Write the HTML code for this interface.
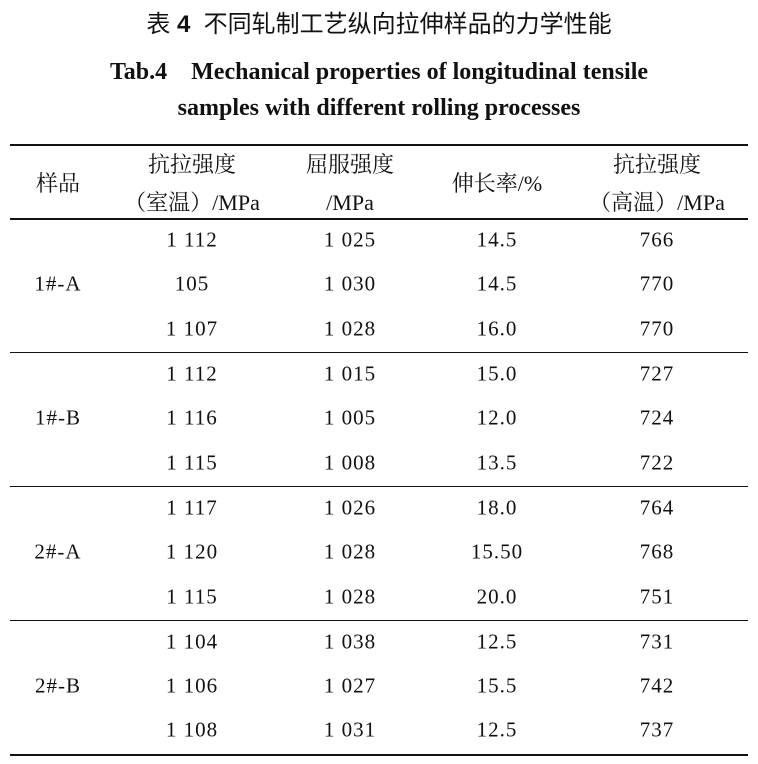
<!DOCTYPE html>
<html><head><meta charset="utf-8"><style>
body{margin:0;width:758px;height:764px;background:#fff;position:relative;overflow:hidden;font-family:"Liberation Serif","Noto Serif CJK SC",serif;color:#111}
.t{position:absolute;white-space:nowrap;transform:translate(-50%,-50%);font-size:21px;line-height:1;letter-spacing:1px}
.c{font-size:22px;letter-spacing:0}
.l{position:absolute;left:10px;width:738px;background:#111}
</style></head><body>
<div class="t" style="left:379px;top:25px;font-size:24px;letter-spacing:0;font-family:'Liberation Sans','Noto Sans CJK SC',sans-serif">表 <b>4</b>&nbsp;&nbsp;不同轧制工艺纵向拉伸样品的力学性能</div>
<div class="t" style="left:379px;top:72px;font-size:24px;letter-spacing:0;font-weight:bold">Tab.4&nbsp;&nbsp;&nbsp;&nbsp;Mechanical properties of longitudinal tensile</div>
<div class="t" style="left:379px;top:108px;font-size:24px;letter-spacing:0;font-weight:bold">samples with different rolling processes</div>
<div class="l" style="top:144px;height:2px"></div>
<div class="t c" style="left:58px;top:184px">样品</div>
<div class="t c" style="left:192px;top:165px">抗拉强度</div>
<div class="t c" style="left:192px;top:203px">（室温）/MPa</div>
<div class="t c" style="left:350px;top:165px">屈服强度</div>
<div class="t c" style="left:350px;top:203px">/MPa</div>
<div class="t c" style="left:497px;top:184px">伸长率/%</div>
<div class="t c" style="left:657px;top:165px">抗拉强度</div>
<div class="t c" style="left:657px;top:203px">（高温）/MPa</div>
<div class="l" style="top:218px;height:2px"></div>
<div class="l" style="top:352px;height:1px"></div>
<div class="l" style="top:486px;height:1px"></div>
<div class="l" style="top:620px;height:1px"></div>
<div class="l" style="top:754px;height:2px"></div>
<div class="t" style="left:58px;top:284px">1#-A</div>
<div class="t" style="left:58px;top:418px">1#-B</div>
<div class="t" style="left:58px;top:552px">2#-A</div>
<div class="t" style="left:58px;top:686px">2#-B</div>

<div class="t" style="left:192px;top:240px">1 112</div><div class="t" style="left:350px;top:240px">1 025</div><div class="t" style="left:497px;top:240px">14.5</div><div class="t" style="left:657px;top:240px">766</div>
<div class="t" style="left:192px;top:284px">105</div><div class="t" style="left:350px;top:284px">1 030</div><div class="t" style="left:497px;top:284px">14.5</div><div class="t" style="left:657px;top:284px">770</div>
<div class="t" style="left:192px;top:329px">1 107</div><div class="t" style="left:350px;top:329px">1 028</div><div class="t" style="left:497px;top:329px">16.0</div><div class="t" style="left:657px;top:329px">770</div>

<div class="t" style="left:192px;top:374px">1 112</div><div class="t" style="left:350px;top:374px">1 015</div><div class="t" style="left:497px;top:374px">15.0</div><div class="t" style="left:657px;top:374px">727</div>
<div class="t" style="left:192px;top:418px">1 116</div><div class="t" style="left:350px;top:418px">1 005</div><div class="t" style="left:497px;top:418px">12.0</div><div class="t" style="left:657px;top:418px">724</div>
<div class="t" style="left:192px;top:463px">1 115</div><div class="t" style="left:350px;top:463px">1 008</div><div class="t" style="left:497px;top:463px">13.5</div><div class="t" style="left:657px;top:463px">722</div>

<div class="t" style="left:192px;top:508px">1 117</div><div class="t" style="left:350px;top:508px">1 026</div><div class="t" style="left:497px;top:508px">18.0</div><div class="t" style="left:657px;top:508px">764</div>
<div class="t" style="left:192px;top:552px">1 120</div><div class="t" style="left:350px;top:552px">1 028</div><div class="t" style="left:497px;top:552px">15.50</div><div class="t" style="left:657px;top:552px">768</div>
<div class="t" style="left:192px;top:597px">1 115</div><div class="t" style="left:350px;top:597px">1 028</div><div class="t" style="left:497px;top:597px">20.0</div><div class="t" style="left:657px;top:597px">751</div>

<div class="t" style="left:192px;top:642px">1 104</div><div class="t" style="left:350px;top:642px">1 038</div><div class="t" style="left:497px;top:642px">12.5</div><div class="t" style="left:657px;top:642px">731</div>
<div class="t" style="left:192px;top:686px">1 106</div><div class="t" style="left:350px;top:686px">1 027</div><div class="t" style="left:497px;top:686px">15.5</div><div class="t" style="left:657px;top:686px">742</div>
<div class="t" style="left:192px;top:730px">1 108</div><div class="t" style="left:350px;top:730px">1 031</div><div class="t" style="left:497px;top:730px">12.5</div><div class="t" style="left:657px;top:730px">737</div>
</body></html>
